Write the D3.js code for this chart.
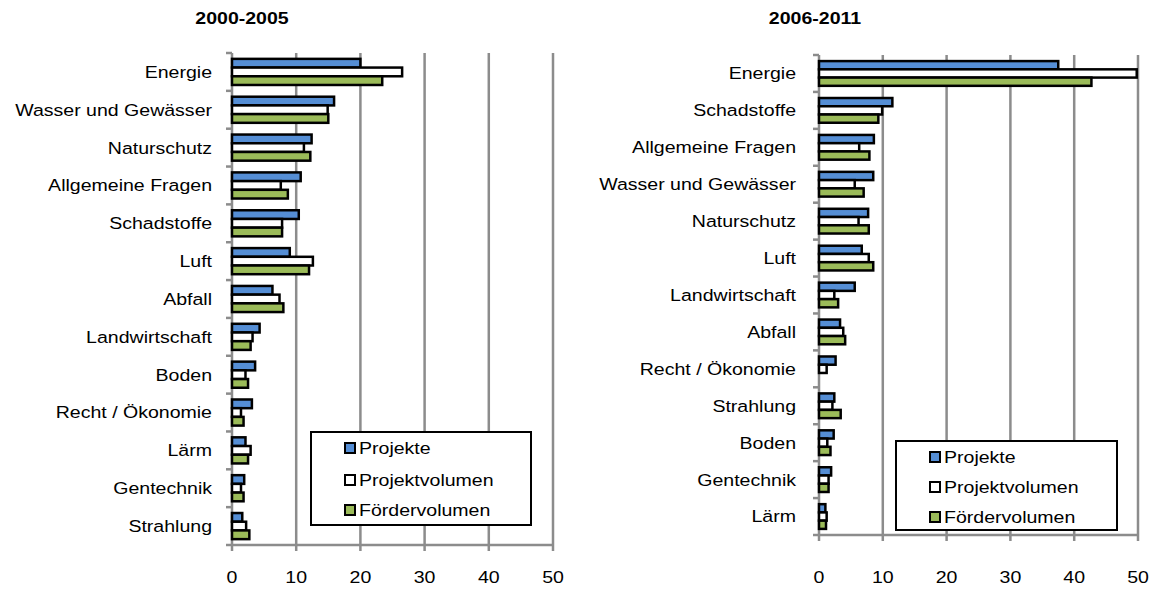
<!DOCTYPE html>
<html>
<head>
<meta charset="utf-8">
<script src="https://cdn.jsdelivr.net/npm/d3@7"></script>
<style>
  body { margin: 0; background: #fff; }
  text { font-family: "Liberation Sans", Arial, sans-serif; fill: #000; }
</style>
</head>
<body>
<script>
// data
var series = ["Projekte", "Projektvolumen", "Fördervolumen"];
var colors = ["#558ed5", "#ffffff", "#9bbb59"];
var xTicks = [0, 10, 20, 30, 40, 50];

var catsA = ["Energie", "Wasser und Gewässer", "Naturschutz", "Allgemeine Fragen", "Schadstoffe", "Luft",
  "Abfall", "Landwirtschaft", "Boden", "Recht / Ökonomie", "Lärm", "Gentechnik", "Strahlung"];
var projekteA = [20.0, 15.9, 12.4, 10.7, 10.4, 9.0, 6.3, 4.3, 3.6, 3.1, 2.1, 1.9, 1.6];
var volumenA = [26.5, 14.9, 11.2, 7.6, 7.8, 12.6, 7.4, 3.2, 2.1, 1.4, 2.9, 1.4, 2.2];
var foerderA = [23.4, 15.0, 12.2, 8.7, 7.8, 12.0, 8.0, 2.9, 2.5, 1.8, 2.5, 1.8, 2.7];

var catsB = ["Energie", "Schadstoffe", "Allgemeine Fragen", "Wasser und Gewässer", "Naturschutz", "Luft",
  "Landwirtschaft", "Abfall", "Recht / Ökonomie", "Strahlung", "Boden", "Gentechnik", "Lärm"];
var projekteB = [37.5, 11.5, 8.6, 8.5, 7.7, 6.7, 5.6, 3.3, 2.6, 2.4, 2.3, 1.9, 1.0];
var volumenB = [49.8, 9.9, 6.3, 5.6, 6.2, 7.8, 2.4, 3.8, 1.2, 2.1, 1.3, 1.5, 1.2];
var foerderB = [42.7, 9.3, 7.9, 7.0, 7.8, 8.5, 3.0, 4.1, 0, 3.4, 1.8, 1.5, 1.1];

var svg = d3.select("body").append("svg")
  .attr("width", 1153)
  .attr("height", 589);

var sx = 1.15; // the source text is a little wider than Arial

function label(g, x, y, str, anchor, size, bold) {
  g.append("g")
    .attr("transform", "translate(" + x + "," + y + ") scale(" + sx + ",1)")
    .append("text")
    .attr("text-anchor", anchor)
    .attr("dy", "0.35em")
    .style("font-size", size + "px")
    .style("font-weight", bold ? "bold" : "normal")
    .text(str);
}

function panel(p) {
  var g = svg.append("g");
  var x = d3.scaleLinear().domain([0, 50]).range([p.x0, p.x1]);
  var y = d3.scaleBand().domain(p.cats).range([p.top, p.bottom])
    .paddingInner(p.pad).paddingOuter(p.pad / 2);
  var sub = d3.scaleBand().domain(series).range([0, y.bandwidth()]);
  var step = y.step();

  label(g, p.titleX, 18, p.title, "middle", 17, true);

  // grid
  g.selectAll(".grid").data(xTicks.slice(1)).enter().append("line")
    .attr("x1", x).attr("x2", x)
    .attr("y1", p.top).attr("y2", p.bottom)
    .attr("stroke", "#8c8c8c").attr("stroke-width", 2.5);

  // axes
  g.append("line").attr("x1", x(0)).attr("x2", x(0)).attr("y1", p.top).attr("y2", p.bottom)
    .attr("stroke", "#8c8c8c").attr("stroke-width", 2.5);
  g.append("line").attr("x1", x(0) - 1).attr("x2", x(50) + 1).attr("y1", p.bottom).attr("y2", p.bottom)
    .attr("stroke", "#8c8c8c").attr("stroke-width", 2.5);
  g.selectAll(".yt").data(d3.range(p.cats.length + 1)).enter().append("line")
    .attr("x1", x(0) - 6).attr("x2", x(0))
    .attr("y1", function(i) { return p.top + i * step; })
    .attr("y2", function(i) { return p.top + i * step; })
    .attr("stroke", "#8c8c8c").attr("stroke-width", 2.5);
  g.selectAll(".xt").data(xTicks).enter().append("line")
    .attr("x1", x).attr("x2", x)
    .attr("y1", p.bottom).attr("y2", p.bottom + 6)
    .attr("stroke", "#8c8c8c").attr("stroke-width", 2.5);

  xTicks.forEach(function(t) { label(g, x(t), 577, t, "middle", 17); });
  p.cats.forEach(function(c) { label(g, p.x0 - p.labelGap, y(c) + y.bandwidth() / 2, c, "end", 17); });

  // bars (zero values are left out)
  series.forEach(function(s, si) {
    var rows = p.cats.map(function(c, i) { return {cat: c, value: p.vals[si][i]}; })
      .filter(function(d) { return d.value > 0; });
    g.selectAll(".bar" + si).data(rows).enter().append("rect")
      .attr("x", x(0))
      .attr("y", function(d) { return y(d.cat) + sub(s); })
      .attr("width", function(d) { return x(d.value) - x(0); })
      .attr("height", sub.bandwidth())
      .attr("fill", colors[si])
      .attr("stroke", "#000").attr("stroke-width", 2.5);
  });

  // legend
  var L = p.legend;
  g.append("rect").attr("x", L.x).attr("y", L.y).attr("width", L.w).attr("height", L.h)
    .attr("fill", "#fff").attr("stroke", "#000").attr("stroke-width", 2);
  series.forEach(function(s, si) {
    var cy = L.y + L.rows[si];
    g.append("rect").attr("x", L.x + 34).attr("y", cy - 5).attr("width", 10).attr("height", 10)
      .attr("fill", colors[si]).attr("stroke", "#000").attr("stroke-width", 2);
    label(g, L.x + 48, cy, s, "start", 17);
  });
}

panel({
  title: "2000-2005", titleX: 242, cats: catsA, vals: [projekteA, volumenA, foerderA],
  x0: 232, x1: 553, top: 53, bottom: 545, pad: 0.31, labelGap: 20,
  legend: {x: 311, y: 432, w: 220, h: 93, rows: [16, 48, 78]}
});
panel({
  title: "2006-2011", titleX: 815, cats: catsB, vals: [projekteB, volumenB, foerderB],
  x0: 819, x1: 1138, top: 55, bottom: 535, pad: 0.33, labelGap: 23,
  legend: {x: 896, y: 441, w: 221, h: 89, rows: [16, 46, 76]}
});
</script>
</body>
</html>
